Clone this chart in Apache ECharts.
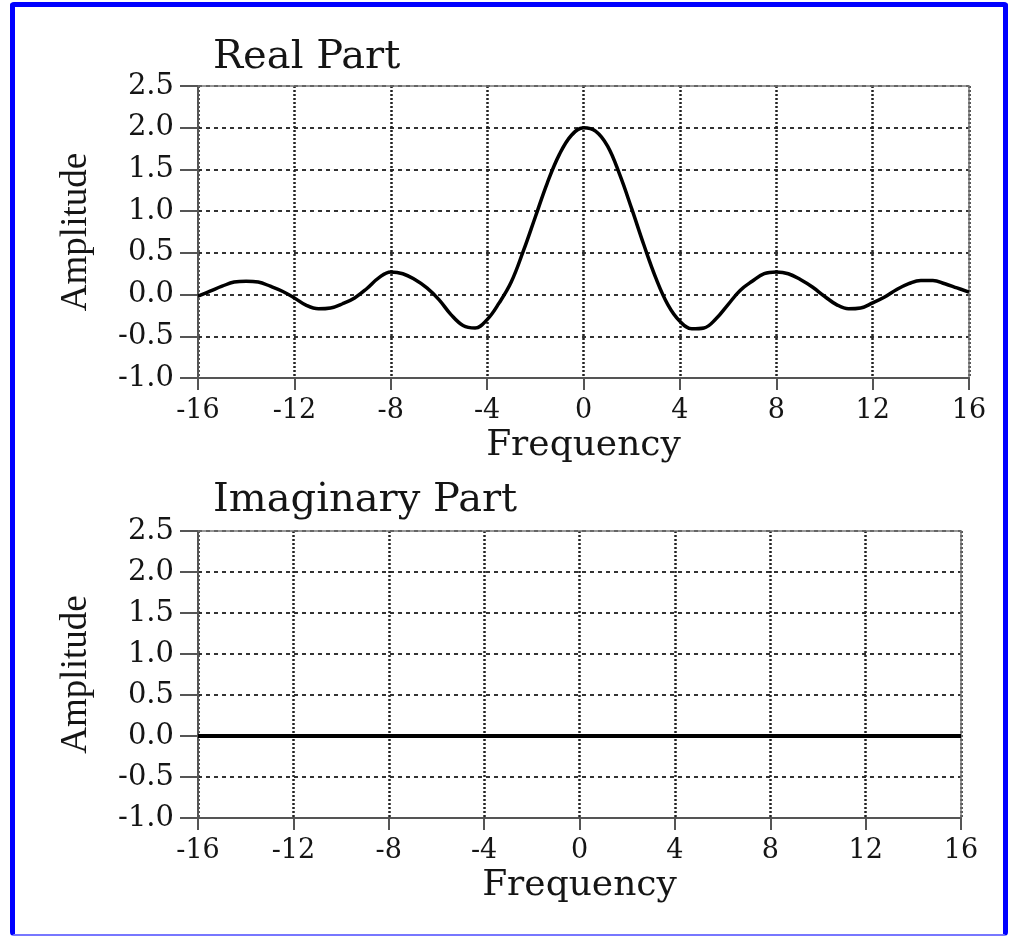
<!DOCTYPE html>
<html>
<head>
<meta charset="utf-8">
<script src="https://cdn.jsdelivr.net/npm/echarts@6/dist/echarts.min.js"></script>
<style>
    html, body { margin: 0; padding: 0; background: #fff; }
    #frame {
        position: absolute; left: 10px; top: 2px;
        width: 988px; height: 927px;
        border: 5px solid #0000ff; border-bottom: 2px solid #7777ff;
        border-radius: 4px;
    }
    #main { position: absolute; left: 0; top: 0; width: 1011px; height: 937px; }
</style>
</head>
<body>
<div id="frame"></div>
<div id="main"></div>
<script>
    // frequency samples
    const freq = [-16, -15.5, -15, -14.5, -14, -13.5, -13, -12.5, -12, -11.5, -11, -10.5, -10, -9.5, -9, -8.5,
        -8, -7.5, -7, -6.5, -6, -5.5, -5, -4.5, -4, -3.5, -3, -2.5, -2, -1.5, -1, -0.5,
        0, 0.5, 1, 1.5, 2, 2.5, 3, 3.5, 4, 4.5, 5, 5.5, 6, 6.5, 7, 7.5,
        8, 8.5, 9, 9.5, 10, 10.5, 11, 11.5, 12, 12.5, 13, 13.5, 14, 14.5, 15, 15.5, 16]

    const realPart = [-0.02, 0.04, 0.10, 0.15, 0.16, 0.15, 0.10, 0.04, -0.04, -0.13, -0.17, -0.16, -0.11, -0.04, 0.07, 0.20,
        0.27, 0.25, 0.18, 0.08, -0.06, -0.24, -0.37, -0.40, -0.30, -0.10, 0.15, 0.52, 0.93, 1.34, 1.68, 1.91,
        2.00, 1.96, 1.78, 1.44, 1.03, 0.60, 0.20, -0.12, -0.32, -0.41, -0.40, -0.29, -0.12, 0.05, 0.16, 0.25,
        0.27, 0.25, 0.18, 0.09, -0.02, -0.12, -0.17, -0.16, -0.10, -0.03, 0.06, 0.13, 0.17, 0.17, 0.13, 0.08, 0.03]

    const imagPart = [0, 0, 0, 0, 0, 0, 0, 0, 0, 0, 0, 0, 0, 0, 0, 0,
        0, 0, 0, 0, 0, 0, 0, 0, 0, 0, 0, 0, 0, 0, 0, 0,
        0, 0, 0, 0, 0, 0, 0, 0, 0, 0, 0, 0, 0, 0, 0, 0,
        0, 0, 0, 0, 0, 0, 0, 0, 0, 0, 0, 0, 0, 0, 0, 0, 0]

    const xTicks = [-16, 16, 4]
    const yTicks = [-1, 2.5, 0.5]

    const serif = 'DejaVu Serif'
    const txt = '#151515'

    function pairs(ys) {
        return freq.map((f, i) => [f, ys[i]])
    }

    function xAxes(idx) {
        return [{
            gridIndex: idx,
            type: 'value',
            min: xTicks[0], max: xTicks[1], interval: xTicks[2],
            name: 'Frequency',
            nameLocation: 'middle',
            nameGap: 50,
            nameTextStyle: {fontFamily: serif, fontSize: 36, color: txt},
            axisLine: {onZero: false, lineStyle: {color: '#555', width: 2}},
            axisTick: {length: 12, lineStyle: {color: '#555', width: 2}},
            axisLabel: {fontFamily: serif, fontSize: 27, color: txt, margin: 19},
            splitLine: {show: true, lineStyle: {type: [2, 2], color: '#222', width: 2.5}}
        }, {
            gridIndex: idx,
            type: 'value',
            position: 'top',
            min: xTicks[0], max: xTicks[1],
            axisLine: {onZero: false, lineStyle: {color: '#777', width: 1.5}},
            axisTick: {show: false},
            axisLabel: {show: false},
            splitLine: {show: false}
        }]
    }

    function yAxes(idx) {
        return [{
            gridIndex: idx,
            type: 'value',
            min: yTicks[0], max: yTicks[1], interval: yTicks[2],
            name: 'Amplitude',
            nameLocation: 'middle',
            nameGap: 103,
            nameRotate: 90,
            nameTextStyle: {fontFamily: 'Liberation Serif', fontSize: 37, color: txt},
            axisLine: {onZero: false, lineStyle: {color: '#555', width: 2}},
            axisTick: {length: 18, lineStyle: {color: '#555', width: 2}},
            axisLabel: {
                fontFamily: serif, fontSize: 29, color: txt, margin: 24,
                formatter: v => v.toFixed(1)
            },
            splitLine: {show: true, lineStyle: {type: [4, 4], color: '#333', width: 2}}
        }, {
            gridIndex: idx,
            type: 'value',
            position: 'right',
            min: yTicks[0], max: yTicks[1],
            axisLine: {onZero: false, lineStyle: {color: '#777', width: 1.5}},
            axisTick: {show: false},
            axisLabel: {show: false},
            splitLine: {show: false}
        }]
    }

    let myChart = echarts.init(document.getElementById('main'))
    myChart.setOption({
        animation: false,
        backgroundColor: 'transparent',
        title: [
            {text: 'Real Part', left: 208, top: 33, textStyle: {fontFamily: serif, fontSize: 40, fontWeight: 'normal', color: txt}},
            {text: 'Imaginary Part', left: 208, top: 476, textStyle: {fontFamily: serif, fontSize: 40, fontWeight: 'normal', color: txt}}
        ],
        grid: [
            {left: 198, top: 86, width: 771, height: 292},
            {left: 198, top: 531, width: 763, height: 287}
        ],
        xAxis: [...xAxes(0), ...xAxes(1)],
        yAxis: [...yAxes(0), ...yAxes(1)],
        series: [
            {
                name: 'Real Part',
                type: 'line',
                xAxisIndex: 0, yAxisIndex: 0,
                data: pairs(realPart),
                smooth: 0.4,
                showSymbol: false,
                lineStyle: {color: '#000', width: 3.5},
                z: 5
            },
            {
                name: 'Imaginary Part',
                type: 'line',
                xAxisIndex: 2, yAxisIndex: 2,
                data: pairs(imagPart),
                showSymbol: false,
                lineStyle: {color: '#000', width: 4},
                z: 5
            }
        ]
    })
</script>
</body>
</html>
